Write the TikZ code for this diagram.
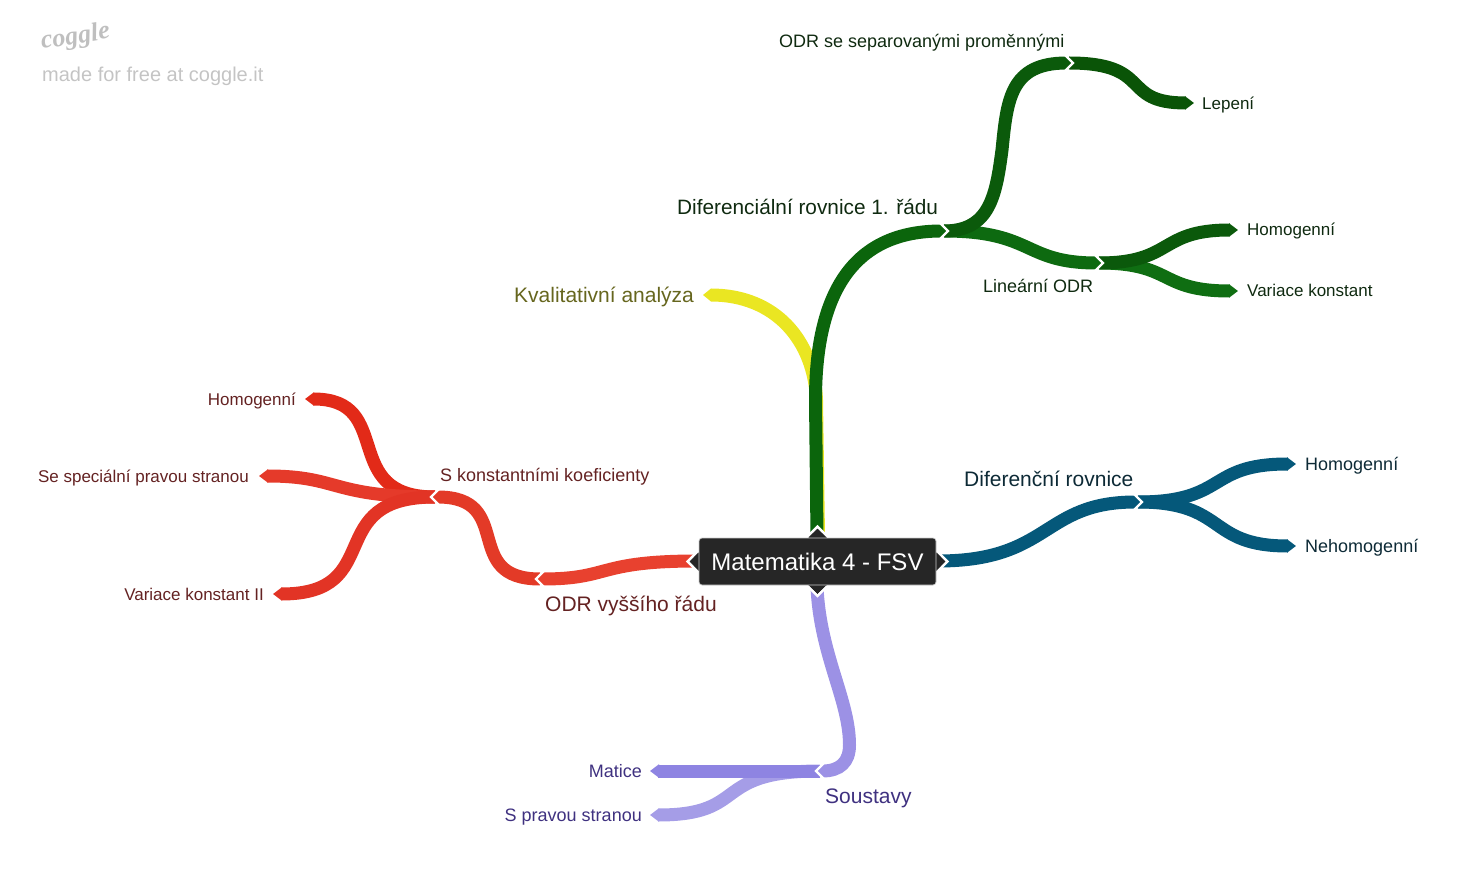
\documentclass[tikz,border=0pt]{standalone}
\usepackage{fontspec}
\setmainfont{Liberation Sans}
\newfontfamily\logofont{Liberation Serif}
\usetikzlibrary{arrows.meta}
\definecolor{gMain}{HTML}{0B650C}
\definecolor{gUp}{HTML}{0B5A0B}
\definecolor{gLin}{HTML}{0D6A10}
\definecolor{gLep}{HTML}{0A5407}
\definecolor{gHom}{HTML}{0B590B}
\definecolor{gVar}{HTML}{0F6E12}
\definecolor{yMain}{HTML}{EAE622}
\definecolor{rMain}{HTML}{E8412F}
\definecolor{rS}{HTML}{E33A27}
\definecolor{rHom}{HTML}{E22A18}
\definecolor{rSe}{HTML}{E53A2A}
\definecolor{rVar}{HTML}{E23425}
\definecolor{bMain}{HTML}{05587A}
\definecolor{pMain}{HTML}{9C91E5}
\definecolor{pMat}{HTML}{8E84E2}
\definecolor{pPra}{HTML}{A59DE7}
\definecolor{tGreen}{HTML}{0F2A10}
\definecolor{tRed}{HTML}{642222}
\definecolor{tPur}{HTML}{3F3180}
\definecolor{tYel}{HTML}{66661E}
\definecolor{tBlue}{HTML}{0D2A36}
\definecolor{boxc}{HTML}{262626}
\tikzset{
  branch/.style={line width=13pt,line cap=butt},
  tipped/.style={branch,-{Triangle[length=9pt,width=13pt]}},
  tipin/.style={branch,-{Triangle[length=7pt,width=13pt]}},
  lab/.style={font=\fontsize{17}{20}\selectfont,anchor=base west,inner sep=0pt},
  labr/.style={font=\fontsize{17}{20}\selectfont,anchor=base east,inner sep=0pt},
  mid/.style={font=\fontsize{18}{20}\selectfont,anchor=base west,inner sep=0pt},
  midr/.style={font=\fontsize{18}{20}\selectfont,anchor=base east,inner sep=0pt},
  big/.style={font=\fontsize{21}{24}\selectfont,anchor=base west,inner sep=0pt},
  chev/.pic={\draw[white,line width=2.2pt,miter limit=10] (-8,-8)--(0,0)--(-8,8);},
  dtip/.pic={\fill[white] (-12,-10)--(-9,-10)--(0,0)--(-9,10)--(-12,10)--cycle;
             \fill[boxc] (-12,-9)--(-10.5,-9)--(-2,0)--(-10.5,9)--(-12,9)--cycle;
             \draw[white,line width=2.2pt,miter limit=10] (-9.5,-9.5)--(0,0)--(-9.5,9.5);}
}
\begin{document}
\begin{tikzpicture}[x=1pt,y=-1pt]
\useasboundingbox (0,0) rectangle (1460,874);
% joints
\coordinate (cT) at (817,536);
\coordinate (cB) at (817,587);
\coordinate (cL) at (697,561);
\coordinate (cR) at (938,561);
\coordinate (jDif) at (948,231);
\coordinate (jSep) at (1073,63);
\coordinate (jUp) at (1002,150);
\coordinate (jLin) at (1103,263);
\coordinate (jBlue) at (1142,502);
\coordinate (jPur) at (816,771);
\coordinate (jOdr) at (536,579);
\coordinate (jKon) at (431,497);
% free ends
\coordinate (eKval) at (703,295);
\coordinate (eLep) at (1194,103);
\coordinate (eHomG) at (1238,230);
\coordinate (eVarG) at (1238,291);
\coordinate (eHomB) at (1296,464);
\coordinate (eNeh) at (1296,546);
\coordinate (eMat) at (650,771);
\coordinate (ePra) at (650,815);
\coordinate (eHomR) at (305,399);
\coordinate (eSe) at (259,476);
\coordinate (eVarR) at (273,594);
% text
\node[mid,text=tGreen] (tSep) at (779,48) {ODR se separovanými proměnnými};
\node[lab,text=tGreen] (tLep) at (1202,110) {Lepení};
\node[big,text=tGreen,font=\fontsize{20.8}{24}\selectfont] (tDif) at (677,215) {Diferenciální rovnice 1. řádu};
\node[mid,text=tGreen] (tLin) at (983,293) {Lineární ODR};
\node[lab,text=tGreen] (tHomG) at (1247,236) {Homogenní};
\node[lab,text=tGreen] (tVarG) at (1247,297) {Variace konstant};
\node[big,text=tYel] (tKval) at (514,303) {Kvalitativní analýza};
\node[big,text=tBlue] (tBlue) at (964,486) {Diferenční rovnice};
\node[mid,text=tBlue] (tHomB) at (1305,471) {Homogenní};
\node[mid,text=tBlue] (tNeh) at (1305,552) {Nehomogenní};
\node[big,text=tPur] (tSou) at (825,803) {Soustavy};
\node[midr,text=tPur] (tMat) at (642,777) {Matice};
\node[midr,text=tPur] (tPra) at (642,821) {S pravou stranou};
\node[big,text=tRed] (tOdr) at (545,611) {ODR vyššího řádu};
\node[mid,text=tRed] (tKon) at (440,482) {S konstantními koeficienty};
\node[labr,text=tRed] (tHomR) at (296,406) {Homogenní};
\node[labr,text=tRed] (tSe) at (249,483) {Se speciální pravou stranou};
\node[labr,text=tRed] (tVarR) at (264,600) {Variace konstant II};
% logo
\node[inner sep=0pt,anchor=base west,text=black!25,font=\logofont\fontsize{26}{30}\itshape\bfseries\selectfont,rotate=9] (logo) at (42,49) {coggle};
\node[inner sep=0pt,anchor=base west,text=black!23,font=\fontsize{20}{24}\selectfont] (made) at (42,82) {made for free at coggle.it};
% connectors: children first
\draw[tipped,color=gVar] ([xshift=-4pt]jLin) .. controls +(75,0) and +(-80,0) .. (eVarG);
\draw[tipped,color=gHom] ([xshift=-4pt]jLin) .. controls +(75,0) and +(-80,0) .. (eHomG);
\draw[tipin,color=gLin] ([xshift=-4pt]jDif) .. controls +(90,0) and +(-80,0) .. (jLin);
\draw[tipped,color=gLep] ([xshift=-4pt]jSep) .. controls +(85,0) and +(-75,0) .. (eLep);
\draw[tipin,color=gUp] ([xshift=-4pt]jDif) .. controls (990,231) and (996,195) .. (jUp) .. controls (1007,100) and (1010,63) .. (jSep);
\draw[branch,color=yMain] ([xshift=1.5pt]cT) -- (816.5,400) .. controls (814,340) and (775,295) .. ([xshift=8pt]eKval);
\fill[yMain] ([xshift=8pt,yshift=-6.5pt]eKval) -- (eKval) -- ([xshift=8pt,yshift=6.5pt]eKval) -- cycle;
\draw[tipin,color=gMain] (cT) -- (815.5,400) .. controls (815.5,290) and (855,231) .. (jDif);
\draw[tipped,color=bMain] ([xshift=-4pt]jBlue) .. controls +(90,0) and +(-90,0) .. (eHomB);
\draw[tipped,color=bMain] ([xshift=-4pt]jBlue) .. controls +(90,0) and +(-90,0) .. (eNeh);
\draw[tipin,color=bMain] (cR) .. controls +(113,0) and +(-100,0) .. (jBlue);
\draw[tipped,color=pPra] ([xshift=4pt]jPur) .. controls +(-110,0) and +(100,0) .. (ePra);
\draw[tipped,color=pMat] ([xshift=4pt]jPur) -- (eMat);
\draw[tipin,color=pMain] (cB) .. controls (820,655) and (849.5,700) .. (849.5,745) .. controls (849.5,762) and (840,771) .. (jPur);
\draw[tipped,color=rHom] ([xshift=4pt]jKon) .. controls +(-97,0) and +(91,0) .. (eHomR);
\draw[tipped,color=rSe] ([xshift=4pt]jKon) .. controls +(-105,0) and +(81,0) .. (eSe);
\draw[tipped,color=rVar] ([xshift=4pt]jKon) .. controls +(-115,0) and +(115,0) .. (eVarR);
\draw[tipin,color=rS] ([xshift=4pt]jOdr) .. controls +(-80,0) and +(85,0) .. (jKon);
\draw[tipin,color=rMain] (cL) .. controls +(-101,0) and +(75,0) .. (jOdr);
% chevrons
\pic at (jDif) {chev};
\pic at (jSep) {chev};
\pic at (jLin) {chev};
\pic at (jBlue) {chev};
\pic[rotate=180] at (jPur) {chev};
\pic[rotate=180] at (jOdr) {chev};
\pic[rotate=180] at (jKon) {chev};
% centre
\pic[rotate=90] at ([yshift=11.5pt]817.5,538) {dtip};
\pic[rotate=-90] at ([yshift=-11pt]817.5,585) {dtip};
\pic[rotate=180] at ([xshift=-11.5pt]699,561.5) {dtip};
\pic at ([xshift=11.5pt]936,561.5) {dtip};
\node[fill=boxc,draw=black!20,line width=0.7pt,rounded corners=3pt,minimum width=237pt,minimum height=47pt,inner sep=0pt,text=white,font=\fontsize{24}{28}\selectfont] (root) at (817.5,561.5) {Matematika 4 - FSV};
\end{tikzpicture}
\end{document}
